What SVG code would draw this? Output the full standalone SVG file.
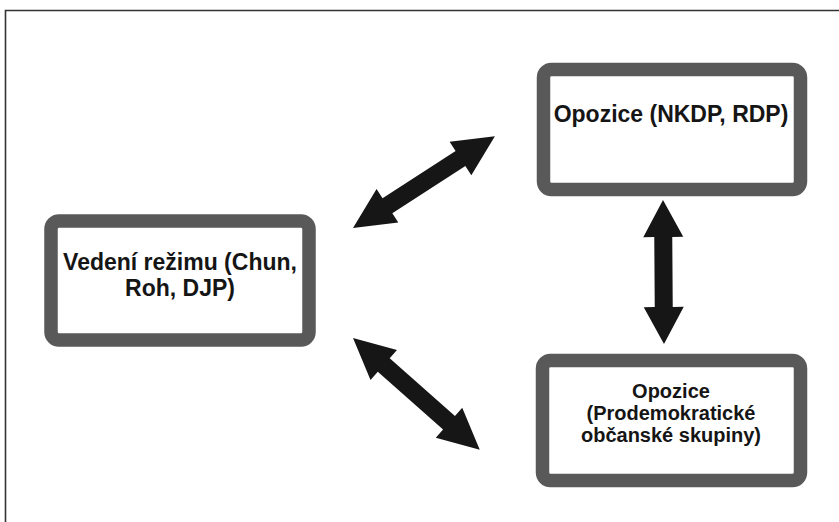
<svg xmlns="http://www.w3.org/2000/svg" width="839" height="522" viewBox="0 0 839 522">
<style>
.box{fill:#fff;stroke:#595959;stroke-width:13.5}
.lbl{font-family:"Liberation Sans",Arial,sans-serif;font-weight:bold;fill:#151515;text-anchor:middle}
.arr{fill:#161616}
</style>
<rect x="0" y="0" width="839" height="522" fill="#fff"/>
<path d="M5.5,522 V10.5 H839" fill="none" stroke="#333" stroke-width="1.6"/>
<g id="connectors">
<polygon class="arr" transform="translate(353,228) rotate(-32.9)" points="0,0 41,-20 41,-9 128,-9 128,-20 169,0 128,20 128,9 41,9 41,20"/>
<polygon class="arr" transform="translate(353,338) rotate(41.4)" points="0,0 41,-20 41,-9 128,-9 128,-20 169,0 128,20 128,9 41,9 41,20"/>
<polygon class="arr" transform="translate(663,200) rotate(89.6)" points="0,0 37,-20 37,-9 107,-9 107,-20 144,0 107,20 107,9 37,9 37,20"/>
</g>
<g id="node-regime">
<rect class="box" x="51" y="221" width="258" height="119" rx="8"/>
<text class="lbl" font-size="23" x="180" y="270">Vedení režimu (Chun,</text>
<text class="lbl" font-size="23" x="180" y="296">Roh, DJP)</text>
</g>
<g id="node-opposition-parties">
<rect class="box" x="543.5" y="69.5" width="257" height="120" rx="8"/>
<text class="lbl" font-size="23" x="671" y="122">Opozice (NKDP, RDP)</text>
</g>
<g id="node-opposition-civic">
<rect class="box" x="542.5" y="360.5" width="258" height="120" rx="8"/>
<text class="lbl" font-size="20" x="671" y="398">Opozice</text>
<text class="lbl" font-size="20" x="671" y="420">(Prodemokratické</text>
<text class="lbl" font-size="20" x="671" y="442">občanské skupiny)</text>
</g>
</svg>
